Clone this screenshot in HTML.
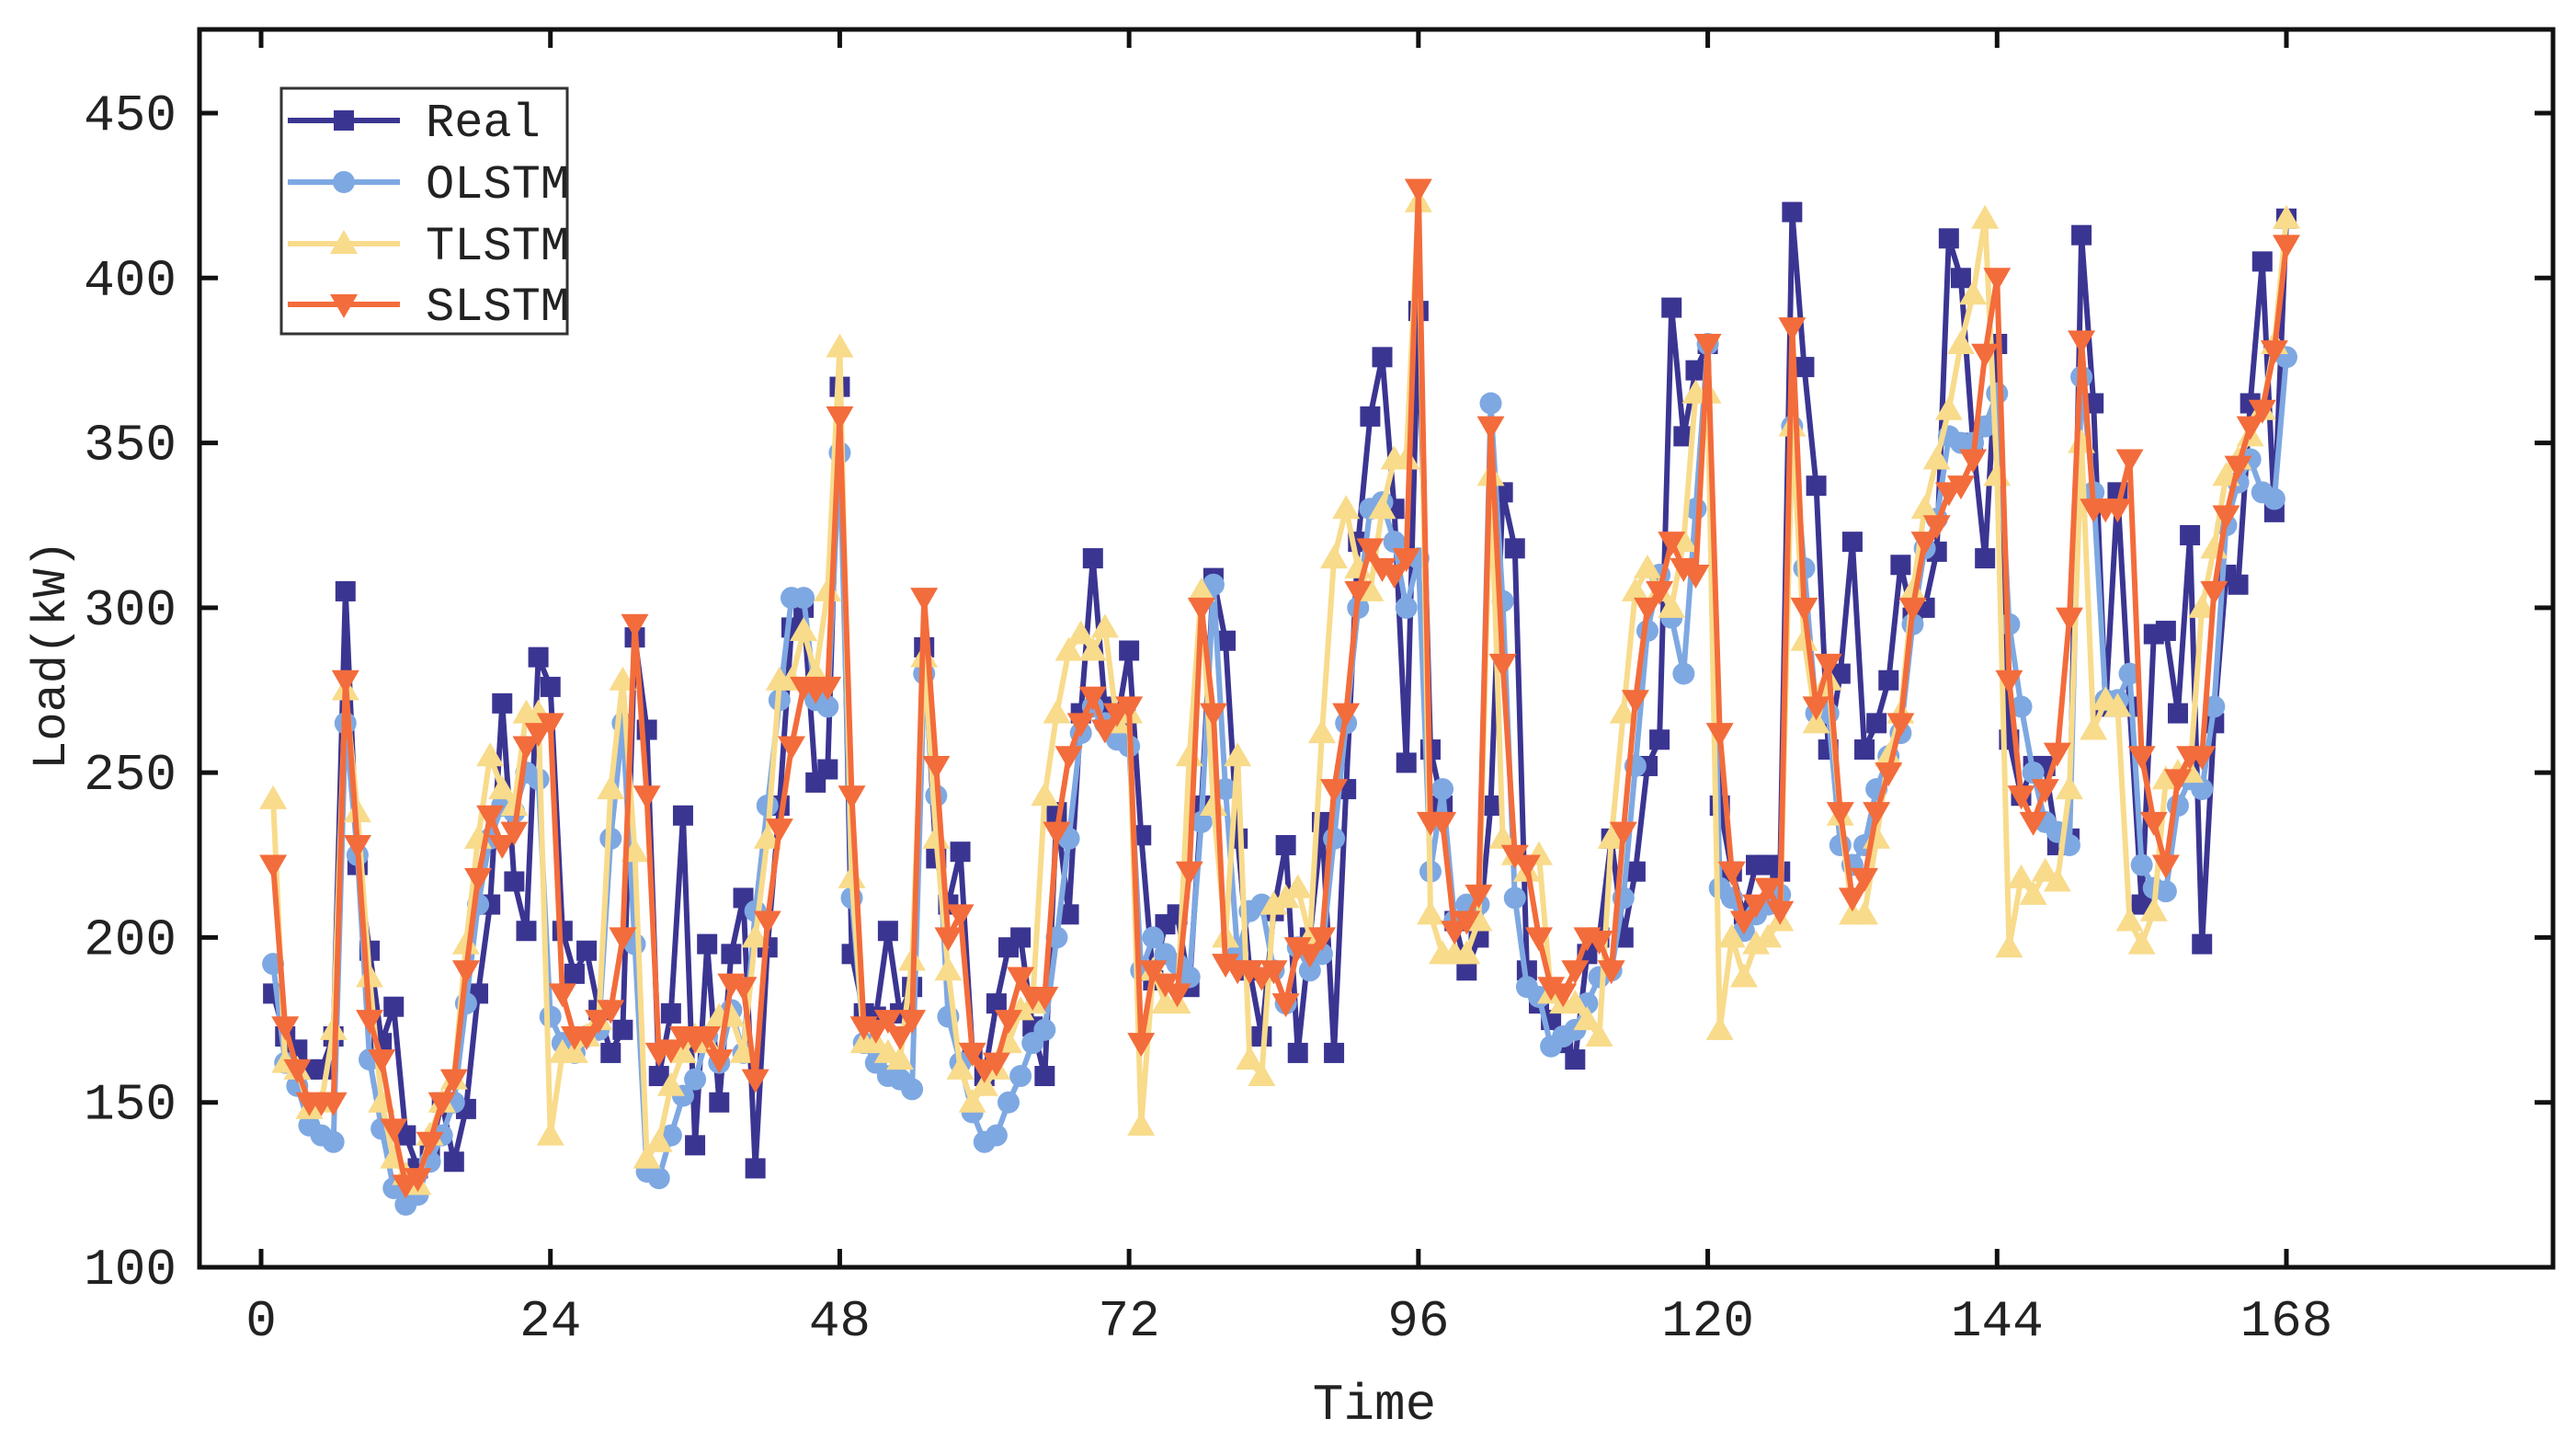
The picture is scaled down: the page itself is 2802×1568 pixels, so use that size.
<!DOCTYPE html>
<html><head><meta charset="utf-8"><style>
html,body{margin:0;padding:0;background:#fff;}
svg{display:block;}
text{font-family:"Liberation Mono","DejaVu Sans Mono",monospace;fill:#222;}
</style></head><body>
<svg id="chart" width="2802" height="1568" viewBox="0 0 2802 1568" xmlns="http://www.w3.org/2000/svg">
<rect x="0" y="0" width="2802" height="1568" fill="#fff"/>
<g id="series"></g>
<g id="axes"></g>
<g id="legend"></g>
</svg>
<script>
const xTicks = [0,24,48,72,96,120,144,168];
const yTicks = [100,150,200,250,300,350,400,450];
const seriesNames = ["Real","OLSTM","TLSTM","SLSTM"];
const real = [183,170,166,160,160,170,305,222,196,168,179,140,130,135,150,132,148,183,210,271,217,202,285,276,
202,189,196,178,165,172,291,263,158,177,237,137,198,150,195,212,130,197,240,294,300,247,251,367,
195,177,176,202,177,185,288,224,210,226,165,158,180,197,200,173,158,238,207,268,315,270,265,287,
231,187,204,207,185,240,309,290,230,190,170,208,228,165,200,235,165,245,320,358,376,330,253,390,
257,240,205,190,200,240,335,318,190,180,175,168,163,195,200,230,200,220,252,260,391,352,372,
380,240,220,207,222,222,220,420,373,337,257,280,320,257,265,278,313,297,300,317,412,400,350,315,
380,260,243,252,252,228,230,413,362,270,335,270,210,292,293,268,322,198,265,310,307,362,405,329,418];
const olstm = [192,162,155,143,140,138,265,225,163,142,124,119,122,132,140,150,180,210,230,240,238,250,248,176,
168,165,170,172,230,265,198,129,127,140,152,157,170,162,178,165,208,240,272,303,303,272,270,347,
212,168,162,158,157,154,280,243,176,162,147,138,140,150,158,168,172,200,230,262,270,265,260,258,
190,200,195,192,188,235,307,245,195,208,210,190,180,197,190,195,230,265,300,330,332,320,300,315,
220,245,205,210,210,362,302,212,185,182,167,170,172,180,188,190,212,252,293,310,297,280,330,380,
215,212,202,207,210,213,355,312,268,268,228,222,228,245,255,262,295,318,327,352,350,350,355,365,
295,270,250,235,232,228,370,335,272,272,280,222,215,214,240,248,245,270,325,338,345,335,333,376];
const tlstm = [242,162,160,148,150,172,275,238,188,150,133,128,125,140,150,157,198,230,255,245,240,268,268,140,
165,165,170,175,245,278,226,133,138,155,165,170,168,176,176,165,200,230,278,278,293,280,305,379,
218,168,168,165,163,193,285,230,190,160,150,155,160,168,178,180,243,268,287,292,287,294,265,268,
143,190,180,180,255,305,240,200,255,163,158,210,212,215,200,262,315,330,312,305,330,345,345,423,
207,195,195,195,205,340,230,225,220,225,183,180,180,175,170,230,268,305,312,305,300,320,365,365,
172,200,188,198,200,205,355,290,265,278,237,207,207,230,255,268,305,330,345,360,380,395,418,340,
197,218,213,220,217,245,350,263,272,270,205,198,208,248,250,250,300,318,340,345,352,360,380,418];
const slstm = [222,173,160,150,150,150,278,228,175,163,142,125,127,138,150,157,190,218,237,228,232,258,262,265,
183,170,170,175,178,200,295,243,165,166,170,169,170,163,186,185,157,205,233,258,276,275,276,358,
243,173,172,175,170,175,303,252,200,207,165,160,162,175,188,182,182,232,255,265,273,263,268,270,
168,190,186,183,220,300,268,192,190,190,188,190,180,197,195,200,245,268,305,318,312,310,315,427,235,
235,202,205,213,355,283,225,222,200,185,183,190,200,199,190,232,272,300,305,320,312,310,380,262,220,
205,210,215,208,385,300,270,283,238,212,218,238,250,265,300,320,325,335,337,345,377,400,278,243,
235,245,256,297,381,330,330,330,345,255,235,222,248,255,255,305,328,343,355,360,378,410];
const L=217,R=2777,T=32,B=1378;
const xScale=v=>284+(2487-284)*v/168;
const yScale=v=>1378-(1378-123)*(v-100)/350;
const NS="http://www.w3.org/2000/svg";
function mk(tag,attrs,parent){const e=document.createElementNS(NS,tag);for(const k in attrs)e.setAttribute(k,attrs[k]);parent.appendChild(e);return e;}
const colors={Real:"#3b3592",OLSTM:"#7ea8e2",TLSTM:"#f8db8b",SLSTM:"#f36c3b"};
const dataMap={Real:real,OLSTM:olstm,TLSTM:tlstm,SLSTM:slstm};
function marker(name,cx,cy,g,s){
  let e;
  if(name==="Real"){e=mk("rect",{x:cx-s*0.55,y:cy-s*0.55,width:s*1.1,height:s*1.1,fill:colors[name]},g);}
  else if(name==="OLSTM"){e=mk("circle",{cx:cx,cy:cy,r:s*0.6,fill:colors[name]},g);}
  else if(name==="TLSTM"){e=mk("polygon",{points:`${cx},${cy-s*0.75} ${cx-s*0.75},${cy+s*0.55} ${cx+s*0.75},${cy+s*0.55}`,fill:colors[name]},g);}
  else {e=mk("polygon",{points:`${cx},${cy+s*0.75} ${cx-s*0.75},${cy-s*0.55} ${cx+s*0.75},${cy-s*0.55}`,fill:colors[name]},g);}
  return e;
}
const sg=document.getElementById("series");
seriesNames.forEach(name=>{
  const vals=dataMap[name];
  const g=mk("g",{},sg);
  
  
  const pts=vals.map((v,i)=>`${xScale(i+1).toFixed(1)},${yScale(v).toFixed(1)}`).join(" ");
  const pl=mk("polyline",{points:pts,fill:"none",stroke:colors[name],"stroke-width":6,"stroke-linejoin":"round"},g);
  
  
  vals.forEach((v,i)=>{
    const m=marker(name,xScale(i+1),yScale(v),g,20);
    
    
  });
});
const ax=document.getElementById("axes");
const frame=mk("rect",{x:L,y:T,width:R-L,height:B-T,fill:"none",stroke:"#111","stroke-width":5},ax);


xTicks.forEach(t=>{
  const x=xScale(t);
  mk("line",{x1:x,y1:B,x2:x,y2:B-20,stroke:"#111","stroke-width":5},ax);
  mk("line",{x1:x,y1:T,x2:x,y2:T+20,stroke:"#111","stroke-width":5},ax);
  const tx=mk("text",{x:x,y:1452,"text-anchor":"middle","font-size":56},ax);
  tx.textContent=t;
  
  
});
yTicks.forEach(t=>{
  const y=yScale(t);
  mk("line",{x1:L,y1:y,x2:L+20,y2:y,stroke:"#111","stroke-width":5},ax);
  mk("line",{x1:R,y1:y,x2:R-20,y2:y,stroke:"#111","stroke-width":5},ax);
  const tx=mk("text",{x:192,y:y+18,"text-anchor":"end","font-size":56},ax);
  tx.textContent=t;
  
  
});
const xt=mk("text",{x:1495,y:1543,"text-anchor":"middle","font-size":56},ax);
xt.textContent="Time";


const yt=mk("text",{x:0,y:0,"text-anchor":"middle","font-size":52,transform:"translate(70,712) rotate(-90)"},ax);
yt.textContent="Load(kW)";


const lg=document.getElementById("legend");
const box=mk("rect",{x:306,y:96,width:311,height:267,fill:"#fff",stroke:"#333","stroke-width":3},lg);


const ly=[131,198,265,331];
seriesNames.forEach((name,i)=>{
  const g=mk("g",{},lg);
  
  
  mk("line",{x1:313,y1:ly[i],x2:435,y2:ly[i],stroke:colors[name],"stroke-width":6},g);
  marker(name,374,ly[i],g,20);
  const t=mk("text",{x:463,y:ly[i]+17,"font-size":52},g);
  t.textContent=name;
});
</script>
</body></html>
